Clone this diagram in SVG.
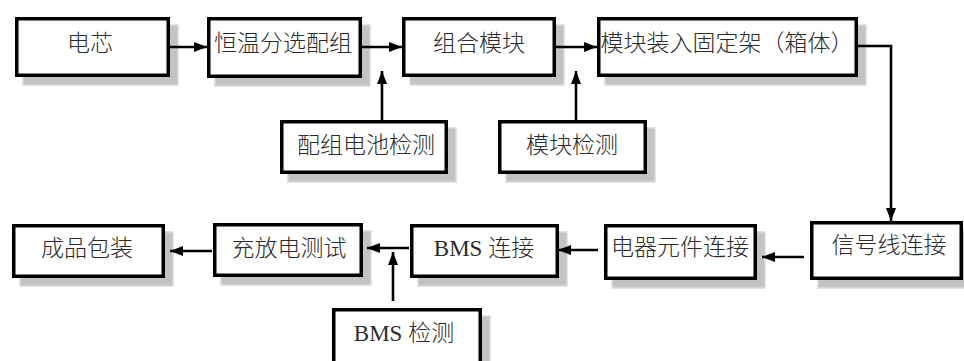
<svg xmlns="http://www.w3.org/2000/svg" width="964" height="361" viewBox="0 0 964 361">
<style>
.sh{fill:#c3c3c3;stroke:#dadada;stroke-width:1.5}
.bx{fill:#fff;stroke:#000;stroke-width:3.5}
.t{font-family:"Liberation Serif","Noto Sans CJK SC",serif;font-size:23px;font-weight:300;fill:#2a2a2a;text-anchor:middle;dominant-baseline:central}
.c{fill:none;stroke:#000;stroke-width:2.6}
</style>
<defs>
<marker id="ah" markerUnits="userSpaceOnUse" markerWidth="14" markerHeight="10" refX="13" refY="5" orient="auto">
<path d="M0,0 L13,5 L0,10 Z" fill="#000"/>
</marker>
</defs>
<rect width="964" height="361" fill="#fff"/>
<g id="n1"><rect class="sh" x="23" y="25" width="155" height="60"/><rect class="bx" x="16.75" y="18.75" width="151.5" height="56.5"/><text class="t" x="90" y="43">电芯</text></g>
<g id="n2"><rect class="sh" x="215" y="25" width="155" height="61"/><rect class="bx" x="208.75" y="18.75" width="151.5" height="57.5"/><text class="t" x="283" y="43">恒温分选配组</text></g>
<g id="n3"><rect class="sh" x="410" y="25" width="154" height="60"/><rect class="bx" x="403.75" y="18.75" width="150.5" height="56.5"/><text class="t" x="479" y="43">组合模块</text></g>
<g id="n4"><rect class="sh" x="605" y="25" width="261" height="60"/><rect class="bx" x="598.75" y="18.75" width="257.5" height="56.5"/><text class="t" x="727" y="43">模块装入固定架（箱体）</text></g>
<g id="n5"><rect class="sh" x="288" y="128" width="168" height="54"/><rect class="bx" x="281.75" y="121.75" width="164.5" height="50.5"/><text class="t" x="366" y="145">配组电池检测</text></g>
<g id="n6"><rect class="sh" x="506" y="128" width="149" height="54"/><rect class="bx" x="499.75" y="121.75" width="145.5" height="50.5"/><text class="t" x="572" y="145">模块检测</text></g>
<g id="n7"><rect class="sh" x="818" y="229" width="150" height="59"/><rect class="bx" x="811.75" y="222.75" width="149.5" height="55.5"/><text class="t" x="889" y="245">信号线连接</text></g>
<g id="n8"><rect class="sh" x="612" y="232" width="153" height="56"/><rect class="bx" x="605.75" y="225.75" width="149.5" height="52.5"/><text class="t" x="680" y="247">电器元件连接</text></g>
<g id="n9"><rect class="sh" x="418" y="232" width="149" height="54"/><rect class="bx" x="411.75" y="225.75" width="145.5" height="50.5"/><text class="t" x="484" y="248">BMS 连接</text></g>
<g id="n10"><rect class="sh" x="221" y="231" width="150" height="54"/><rect class="bx" x="214.75" y="224.75" width="146.5" height="50.5"/><text class="t" x="289" y="248">充放电测试</text></g>
<g id="n11"><rect class="sh" x="20" y="232" width="153" height="54"/><rect class="bx" x="13.75" y="225.75" width="149.5" height="50.5"/><text class="t" x="87" y="248">成品包装</text></g>
<g id="n12"><rect class="sh" x="340" y="316" width="150" height="60"/><rect class="bx" x="333.75" y="309.75" width="146.5" height="60"/><text class="t" x="404" y="333">BMS 检测</text></g>
<g id="connectors">
<path class="c" d="M170,47 H207" marker-end="url(#ah)"/>
<path class="c" d="M362,47 H402" marker-end="url(#ah)"/>
<path class="c" d="M382,120 V71" marker-end="url(#ah)"/>
<path class="c" d="M556,47 H597" marker-end="url(#ah)"/>
<path class="c" d="M576,120 V71" marker-end="url(#ah)"/>
<path class="c" d="M858,46 H891 V221" marker-end="url(#ah)"/>
<path class="c" d="M804,257 H762" marker-end="url(#ah)"/>
<path class="c" d="M598,250 H558" marker-end="url(#ah)"/>
<path class="c" d="M409,248 H367" marker-end="url(#ah)"/>
<path class="c" d="M393,301 V252" marker-end="url(#ah)"/>
<path class="c" d="M212,251 H170" marker-end="url(#ah)"/>
</g>
</svg>
